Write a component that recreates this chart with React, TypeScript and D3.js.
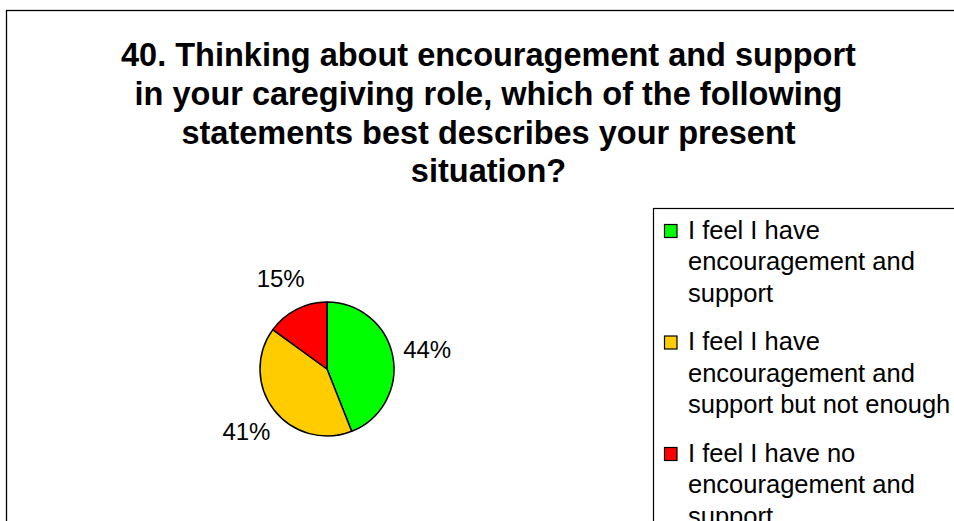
import React from "react";
import * as d3 from "d3";

const titleLines = [
  "40. Thinking about encouragement and support",
  "in your caregiving role, which of the following",
  "statements best describes your present",
  "situation?",
];
const categories = [
  "I feel I have encouragement and support",
  "I feel I have encouragement and support but not enough",
  "I feel I have no encouragement and support",
];
const legendLines = [
  ["I feel I have", "encouragement and", "support"],
  ["I feel I have", "encouragement and", "support but not enough"],
  ["I feel I have no", "encouragement and", "support"],
];
const values = [44, 41, 15];
const labels = ["44%", "41%", "15%"];
const colors = ["#00FF00", "#FFCC00", "#FF0000"];

const FONT = "'Liberation Sans', Arial, Helvetica, sans-serif";

export default function App() {
  const W = 954, H = 521;
  const cx = 327, cy = 369, r = 67, labelR = 102;
  const pie = d3.pie<number>().sort(null).value((d) => d);
  const arcs = pie(values);
  const arc = d3.arc<d3.PieArcDatum<number>>().innerRadius(0).outerRadius(r);
  const labelArc = d3.arc<d3.PieArcDatum<number>>().innerRadius(labelR).outerRadius(labelR);

  const legendX = 653.5, legendY = 208.5;
  const lineH = 31.7, itemH = 111.5;

  return (
    <svg width={W} height={H} style={{ position: "absolute", left: 0, top: 0 }} fontFamily={FONT}>
      <rect x={0} y={0} width={W} height={H} fill="#fff" />
      <rect x={6.5} y={10.5} width={1000} height={700} fill="#fff" stroke="#000" strokeWidth={1.3} />
      {titleLines.map((t, i) => (
        <text key={i} x={488.5} y={66 + i * 38.8} textAnchor="middle" fontWeight="bold" fontSize={32.5} fill="#000">
          {t}
        </text>
      ))}
      <g transform={`translate(${cx},${cy})`}>
        {arcs.map((a, i) => (
          <path key={i} d={arc(a) || ""} fill={colors[i]} stroke="#000" strokeWidth={1.5} strokeLinejoin="round" />
        ))}
        {arcs.map((a, i) => {
          const [lx, ly] = labelArc.centroid(a);
          return (
            <text key={i} x={lx} y={ly + 8.5} textAnchor="middle" fontSize={24} fill="#000">
              {labels[i]}
            </text>
          );
        })}
      </g>
      <rect x={legendX} y={legendY} width={400} height={400} fill="#fff" stroke="#000" strokeWidth={1.2} />
      {categories.map((c, i) => (
        <g key={c}>
          <rect x={664.5} y={224.5 + i * itemH} width={12.5} height={13} fill={colors[i]} stroke="#000" strokeWidth={1.2} />
          {legendLines[i].map((l, j) => (
            <text key={j} x={688} y={238.5 + i * itemH + j * lineH} fontSize={25.5} fill="#000">
              {l}
            </text>
          ))}
        </g>
      ))}
    </svg>
  );
}
